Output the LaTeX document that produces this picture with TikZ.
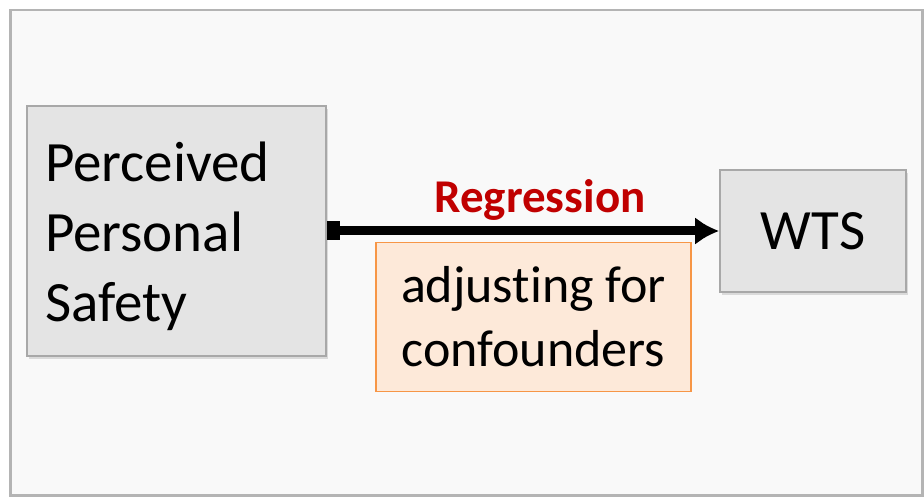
\documentclass[tikz,border=0pt]{standalone}
\usepackage{fontspec}
\setmainfont{Carlito}[Ligatures=NoCommon]
\usetikzlibrary{arrows.meta,shadows}
\definecolor{framegray}{HTML}{B4B4B4}
\definecolor{bgfill}{HTML}{F9F9F9}
\definecolor{boxfill}{HTML}{E4E4E4}
\definecolor{boxline}{HTML}{A8A8A8}
\definecolor{orfill}{HTML}{FDE9D9}
\definecolor{orline}{HTML}{F79646}
\definecolor{regred}{HTML}{C00000}
\tikzset{
  graybox/.style={draw=boxline, line width=1.8pt, fill=boxfill, inner sep=0pt,
    drop shadow={opacity=0.25, shadow xshift=2pt, shadow yshift=-3pt}},
  orangebox/.style={draw=orline, line width=1.5pt, fill=orfill, inner sep=0pt},
  bigtext/.style={font=\fontsize{57}{70}\selectfont},
  midtext/.style={font=\fontsize{52}{64}\selectfont},
  conn/.style={line width=9pt, draw=black,
    {Square[length=13pt 0 0,width=19pt 0 0]}-{Latex[length=24pt 0 0,width=28pt 0 0]}}
}
\begin{document}
\begin{tikzpicture}[x=1pt,y=-1pt]
\useasboundingbox (0,0) rectangle (924,497);
\fill[white] (0,0) rectangle (924,497);
\draw[framegray, line width=2.5pt, fill=bgfill] (10.5,10) rectangle (922.5,495.5);
\node[graybox, minimum width=299pt, minimum height=250pt] (pps) at (176.5,231) {};
\node[inner sep=0pt, text width=263pt, align=left, bigtext] (ppstext) at (176.5,236) {Perceived\\Personal\\Safety};
\node[graybox, minimum width=186pt, minimum height=122pt, bigtext] (wts) at (813,231) {WTS};
\node[orangebox, minimum width=315pt, minimum height=149pt, align=center, midtext]
  (adj) at (533.5,317) {adjusting for\\confounders};
\node[font=\fontsize{47}{56}\selectfont\bfseries, text=regred] (reg) at (540,200) {Regression};
\draw[conn] (pps.east) -- (wts.west);
\end{tikzpicture}
\end{document}
